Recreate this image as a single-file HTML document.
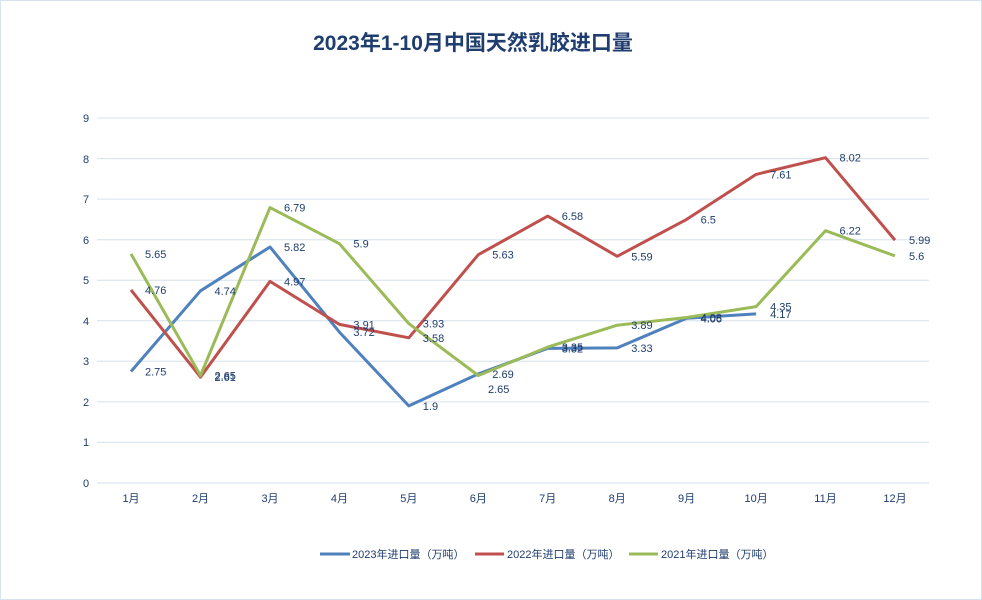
<!DOCTYPE html>
<html><head><meta charset="utf-8"><style>
html,body{margin:0;padding:0;background:#fff}
svg{display:block}
text{font-family:"Liberation Sans","Noto Sans CJK SC",sans-serif;fill:#1f3d6e}
</style></head><body>
<svg width="982" height="600" viewBox="0 0 982 600" xmlns="http://www.w3.org/2000/svg">
<rect x="0.5" y="0.5" width="981" height="599" fill="#fff" stroke="#d6e2f0"/>
<text x="473" y="50" text-anchor="middle" font-size="21" font-weight="bold" style="fill:#1f3d6e">2023年1-10月中国天然乳胶进口量</text>
<g stroke="#d5e0ec" stroke-width="1">
<line x1="97" x2="929" y1="483" y2="483"/><line x1="97" x2="929" y1="442.4" y2="442.4"/><line x1="97" x2="929" y1="401.9" y2="401.9"/><line x1="97" x2="929" y1="361.3" y2="361.3"/><line x1="97" x2="929" y1="320.8" y2="320.8"/><line x1="97" x2="929" y1="280.2" y2="280.2"/><line x1="97" x2="929" y1="239.7" y2="239.7"/><line x1="97" x2="929" y1="199.1" y2="199.1"/><line x1="97" x2="929" y1="158.6" y2="158.6"/><line x1="97" x2="929" y1="118" y2="118"/>
</g>
<g font-size="11" text-anchor="middle">
<text x="86" y="487">0</text><text x="86" y="446">1</text><text x="86" y="406">2</text><text x="86" y="365">3</text><text x="86" y="325">4</text><text x="86" y="284">5</text><text x="86" y="244">6</text><text x="86" y="203">7</text><text x="86" y="163">8</text><text x="86" y="122">9</text>
<text x="131" y="502">1月</text><text x="200.5" y="502">2月</text><text x="270" y="502">3月</text><text x="339.4" y="502">4月</text><text x="408.8" y="502">5月</text><text x="478.3" y="502">6月</text><text x="547.7" y="502">7月</text><text x="617.2" y="502">8月</text><text x="686.6" y="502">9月</text><text x="756.1" y="502">10月</text><text x="825.5" y="502">11月</text><text x="895" y="502">12月</text>
</g>
<g fill="none" stroke-width="3" stroke-linejoin="round">
<polyline stroke="#4f81bd" points="131,371.5 200.5,290.8 270,247 339.4,332.1 408.8,405.9 478.3,373.9 547.7,348.4 617.2,347.9 686.6,318.3 756.1,313.9"/>
<polyline stroke="#c0504d" points="131,289.9 200.5,377.1 270,281.4 339.4,324.4 408.8,337.8 478.3,254.7 547.7,216.1 617.2,256.3 686.6,219.4 756.1,174.4 825.5,157.7 895,240.1"/>
<polyline stroke="#9bbb59" points="131,253.9 200.5,375.5 270,207.6 339.4,243.7 408.8,323.6 478.3,375.5 547.7,347.1 617.2,325.2 686.6,317.5 756.1,306.6 825.5,230.7 895,255.9"/>
</g>
<g font-size="11">
<text x="145" y="375.5">2.75</text><text x="214.5" y="294.8">4.74</text><text x="284" y="251">5.82</text><text x="353.4" y="336.1">3.72</text><text x="422.8" y="409.9">1.9</text><text x="492.3" y="377.9">2.69</text><text x="561.7" y="352.4">3.32</text><text x="631.2" y="351.9">3.33</text><text x="700.6" y="322.3">4.06</text><text x="770.1" y="317.9">4.17</text>
<text x="145" y="293.9">4.76</text><text x="214.5" y="381.1">2.61</text><text x="284" y="285.4">4.97</text><text x="353.4" y="328.4">3.91</text><text x="422.8" y="341.8">3.58</text><text x="492.3" y="258.7">5.63</text><text x="561.7" y="220.1">6.58</text><text x="631.2" y="260.3">5.59</text><text x="700.6" y="223.4">6.5</text><text x="770.1" y="178.4">7.61</text><text x="839.5" y="161.7">8.02</text><text x="909" y="244.1">5.99</text>
<text x="145" y="257.9">5.65</text><text x="214.5" y="379.5">2.65</text><text x="284" y="211.6">6.79</text><text x="353.4" y="247.7">5.9</text><text x="422.8" y="327.6">3.93</text><text x="488" y="393">2.65</text><text x="561.7" y="351.1">3.35</text><text x="631.2" y="329.2">3.89</text><text x="700.6" y="321.5">4.08</text><text x="770.1" y="310.6">4.35</text><text x="839.5" y="234.7">6.22</text><text x="909" y="259.9">5.6</text>
</g>
<g stroke-width="3">
<line x1="320" x2="350" y1="554" y2="554" stroke="#4f81bd"/>
<line x1="475" x2="504" y1="554" y2="554" stroke="#c0504d"/>
<line x1="629" x2="658" y1="554" y2="554" stroke="#9bbb59"/>
</g>
<g font-size="11">
<text x="352" y="558">2023年进口量（万吨）</text>
<text x="507" y="558">2022年进口量（万吨）</text>
<text x="661" y="558">2021年进口量（万吨）</text>
</g>
</svg>
</body></html>
